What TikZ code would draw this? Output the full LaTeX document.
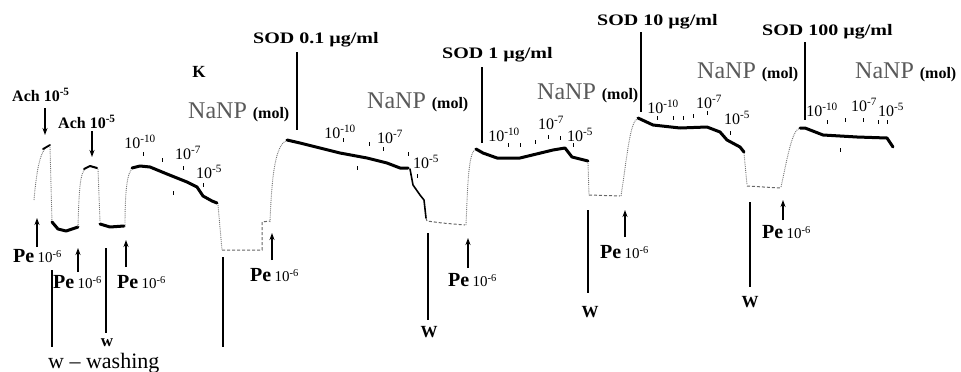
\documentclass[tikz,border=0pt]{standalone}
\usepackage{fontspec}
\setmainfont{Liberation Serif}
\usetikzlibrary{arrows.meta}

\begin{document}
\begin{tikzpicture}[x=1pt, y=-1pt,
    trace/.style={line width=3pt, line join=round, line cap=round},
    fast/.style={black!55, densely dotted, line width=0.9pt},
    base/.style={black!60, densely dashed, line width=1pt},
    tickm/.style={line width=0.9pt},
    washline/.style={line width=1.4pt},
    arr/.style={-{Stealth[length=7pt, width=5pt]}, line width=1.2pt},
    dose/.style={font=\fontsize{16}{16}\selectfont, inner sep=0pt},
    sodlbl/.style={font=\fontsize{16}{16}\selectfont\bfseries, inner sep=0pt, anchor=west},
    nanp/.style={font=\fontsize{24}{24}\selectfont, inner sep=0pt, anchor=west},
    pelbl/.style={inner sep=0pt, anchor=west},
    achlbl/.style={font=\fontsize{16}{16}\selectfont\bfseries, inner sep=0pt, anchor=west},
    wlbl/.style={font=\fontsize{17}{17}\selectfont\bfseries, inner sep=0pt}]
    \useasboundingbox (0,0) rectangle (961,372);

    % Ach responses
    \draw[fast] (34,200) .. controls (37,165) and (41,150) .. (48,146);
    \draw[trace, line width=1.8pt] (43,149) -- (50,145);
    \draw[fast] (50,147) -- (52,222);
    \draw[trace] (52,222) -- (58,229) -- (66,231) -- (72,229) -- (78,227);
    \draw[fast] (78,227) .. controls (79,190) and (80,172) .. (86,168);
    \draw[trace, line width=2pt] (84,169) -- (90,166) -- (97,168);
    \draw[fast] (98,169) -- (100,222);
    \draw[trace] (100,224) -- (110,227) -- (124,226);

    % NaNP series, no SOD
    \draw[fast] (125,227) .. controls (125,190) and (127,172) .. (133,168);
    \draw[trace] (132,168) -- (140,166) -- (150,167) -- (167,174) -- (187,182) -- (197,187) -- (203,196) -- (212,201) -- (217,203);
    \draw[fast] (218,205) -- (222,250);
    \draw[base] (222,250) -- (262,250) -- (262,222) -- (270,221);

    % SOD 0.1
    \draw[fast] (270,222) .. controls (272,170) and (276,145) .. (287,140);
    \draw[trace] (287,140) -- (300,143) -- (320,148) -- (340,153) -- (367,158) -- (387,163) -- (400,168) -- (408,168);
    \draw[trace, line width=1.6pt] (410,169) -- (413,185) -- (420,195) -- (424,200) -- (426,218);
    \draw[base] (426,218) -- (427,221) -- (442,223) -- (465,225);

    % SOD 1
    \draw[fast] (466,225) .. controls (468,175) and (469,152) .. (476,149);
    \draw[trace] (476,149) -- (483,153) -- (497,158) -- (520,158) -- (553,150) -- (565,148) -- (572,157) -- (588,161);
    \draw[fast] (588,163) -- (589,195);
    \draw[base] (589,195) -- (620,196);

    % SOD 10
    \draw[fast] (621,196) .. controls (628,150) and (630,122) .. (638,118);
    \draw[trace] (638,118) -- (653,125) -- (680,128) -- (707,127) -- (720,132) -- (727,140) -- (740,147) -- (744,152);
    \draw[fast] (744,153) -- (747,185);
    \draw[base] (747,186) -- (780,188);

    % SOD 100
    \draw[fast] (781,187) .. controls (788,155) and (792,130) .. (800,128);
    \draw[trace] (800,128) -- (805,128) -- (823,135) -- (857,137) -- (887,138) -- (893,147);

    % dose marks
    \foreach \x/\y in {143/152, 162/158, 183/166, 173/191, 203/183,
                       343/138, 357/166, 369/142, 383/147, 408/152, 410/171, 417/174,
                       508/143, 520/143, 535/140, 548/135, 560/136, 573/143,
                       657/116, 673/116, 683/116, 693/114, 707/111,
                       730/131, 827/120, 845/118, 863/118, 878/120, 887/120, 840/148}
        \draw[tickm] (\x,\y) -- ++(0,4);

    % dose labels
    \foreach \x/\y/\e in {140/142/-10, 188/153/-7, 209/172/-5,
                          340/132/-10, 390/137/-7, 426/162/-5,
                          504/135/-10, 551/123/-7, 580/135/-5,
                          663/107/-10, 709/102/-7, 737/118/-5,
                          822/110/-10, 864/105/-7, 891/110/-5}
        \node[dose] (d\x) at (\x,\y) {10\textsuperscript{\e}};

    % Ach labels
    \node[achlbl] (ach1) at (12,95) {Ach 10\textsuperscript{-5}};
    \coordinate (ach1a) at (45,108);
    \coordinate (ach1t) at (45,135);
    \draw[arr] (ach1a) -- (ach1t);
    \node[achlbl] (ach2) at (58,122) {Ach 10\textsuperscript{-5}};
    \coordinate (ach2a) at (92,131);
    \coordinate (ach2t) at (92,157);
    \draw[arr] (ach2a) -- (ach2t);

    % Pe labels
    \foreach \n/\x/\y/\ax/\ay/\az in {1/13/256/37/247/218, 2/53/282/78/272/248, 3/117/282/126/267/240,
                                     4/250/275/272/260/233, 5/448/280/468/268/238, 6/600/252/625/237/210,
                                     7/762/232/783/220/200}{
        \node[pelbl] (pe\n) at (\x,\y) {\fontsize{20}{20}\selectfont\bfseries Pe\,\fontsize{15}{15}\mdseries 10\textsuperscript{-6}};
        \coordinate (pe\n a) at (\ax,\ay);
        \coordinate (pe\n t) at (\ax,\az);
        \draw[arr] (pe\n a) -- (pe\n t);
    }

    % SOD labels and lines
    \node[sodlbl] (sod1) at (253,40) {\scalebox{1.25}[1]{SOD 0.1 \textmu g/ml}};
    \draw[washline] (297,52) -- (297,130);
    \node[sodlbl] (sod2) at (442,55) {\scalebox{1.25}[1]{SOD 1 \textmu g/ml}};
    \draw[washline] (482,67) -- (482,143);
    \node[sodlbl] (sod3) at (597,22) {\scalebox{1.25}[1]{SOD 10 \textmu g/ml}};
    \draw[washline] (641,32) -- (641,112);
    \node[sodlbl] (sod4) at (762,32) {\scalebox{1.25}[1]{SOD 100 \textmu g/ml}};
    \draw[washline] (805,42) -- (805,120);

    % NaNP labels
    \node[font=\fontsize{17}{17}\selectfont\bfseries, inner sep=0pt] (k) at (199,72) {K};
    \foreach \n/\x/\y in {1/188/112, 2/367/102, 3/537/93, 4/697/72, 5/855/72}
        \node[nanp] (nanp\n) at (\x,\y) {\textcolor{black!65}{NaNP} {\fontsize{16}{16}\selectfont\bfseries (mol)}};

    % washing lines
    \draw[washline] (52,270) -- (52,347);
    \draw[washline] (106,248) -- (106,333);
    \node[wlbl] (w1) at (107,343) {w};
    \draw[washline] (223,257) -- (223,347);
    \draw[washline] (428,233) -- (428,320);
    \node[wlbl] (w2) at (429,332) {W};
    \draw[washline] (588,210) -- (588,293);
    \node[wlbl] (w3) at (590,312) {W};
    \draw[washline] (750,202) -- (750,287);
    \node[wlbl] (w4) at (750,302) {W};
    \node[font=\fontsize{22}{22}\selectfont, inner sep=0pt, anchor=west] (key) at (48,363) {w -- washing};
\end{tikzpicture}
\end{document}
